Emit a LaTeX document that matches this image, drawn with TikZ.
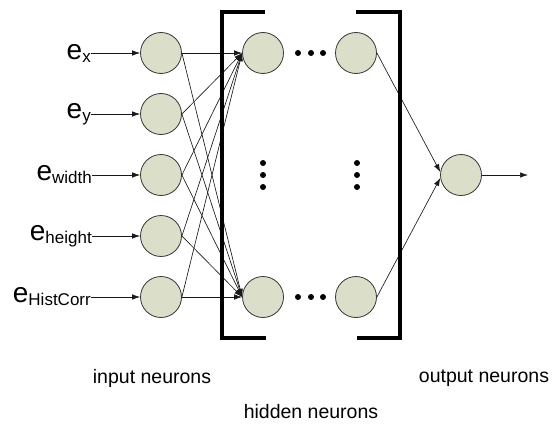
\documentclass[tikz,border=0pt]{standalone}
\usepackage{fontspec}
\setmainfont{Liberation Sans}
\usetikzlibrary{arrows.meta}
\definecolor{neuronfill}{RGB}{219,222,200}
\definecolor{neuronline}{RGB}{55,55,55}
\begin{document}
\begin{tikzpicture}[x=1pt,y=-1pt,
  neuron/.style={circle,draw=neuronline,fill=neuronfill,line width=0.8pt,minimum size=41pt,inner sep=0pt},
  conn/.style={draw=black!90,line width=0.65pt,-{Latex[length=8pt,width=5.5pt]}},
  bracketline/.style={line width=3.5pt,line join=miter,line cap=butt},
  inlabel/.style={anchor=east,inner sep=0pt,font=\fontsize{28}{28}\selectfont},
  caption/.style={inner sep=0pt,font=\fontsize{19.5}{22}\selectfont},
  dotmark/.style={circle,fill=black,inner sep=0pt,minimum size=6pt}]
\useasboundingbox (0,0) rectangle (557,428);
\newcommand{\sublab}[1]{\raisebox{-3pt}{\fontsize{17}{17}\selectfont #1}}
% input neurons
\node[neuron] (i1) at (161,53) {};
\node[neuron] (i2) at (161,114) {};
\node[neuron] (i3) at (161,175) {};
\node[neuron] (i4) at (161,236) {};
\node[neuron] (i5) at (161,297) {};
% hidden neurons
\node[neuron] (h1) at (263,53) {};
\node[neuron] (h2) at (263,297) {};
\node[neuron] (g1) at (356,53) {};
\node[neuron] (g2) at (356,297) {};
% output
\node[neuron] (o) at (461,175) {};
\coordinate (oend) at (528,175);
% labels
\node[inlabel] (l1) at (91,53) {e\sublab{x}};
\node[inlabel] (l2) at (91,114) {e\sublab{y}};
\node[inlabel] (l3) at (92,175) {e\sublab{width}};
\node[inlabel] (l4) at (92,236) {e\sublab{height}};
\node[inlabel] (l5) at (91,297) {e\sublab{HistCorr}};
\foreach \k in {1,...,5}{
  \draw[conn] (l\k.east) -- (i\k.west);
  \draw[conn] (i\k.east) -- (h1.west);
  \draw[conn] (i\k.east) -- (h2.west);
}
\draw[conn] (g1.east) -- (o.172);
\draw[conn] (g2.east) -- (o.188);
\draw[conn] (o.east) -- (oend);
% dots
\node[dotmark] (d1) at (298,53) {};
\node[dotmark] (d2) at (311,53) {};
\node[dotmark] (d3) at (323,53) {};
\node[dotmark] (d4) at (298,297) {};
\node[dotmark] (d5) at (311,297) {};
\node[dotmark] (d6) at (323,297) {};
\node[dotmark] (v1) at (263,163) {};
\node[dotmark] (v2) at (263,175) {};
\node[dotmark] (v3) at (263,187) {};
\node[dotmark] (v4) at (357,163) {};
\node[dotmark] (v5) at (357,175) {};
\node[dotmark] (v6) at (357,187) {};
% brackets
\draw[bracketline] (265,12) -- (222,12) -- (222,338) -- (266,338);
\draw[bracketline] (356,12) -- (400,12) -- (400,338) -- (357,338);
% captions
\node[caption] (ci) at (152,378) {input neurons};
\node[caption] (ch) at (311,412) {hidden neurons};
\node[caption] (co) at (484,378) {output neurons};
\end{tikzpicture}
\end{document}
